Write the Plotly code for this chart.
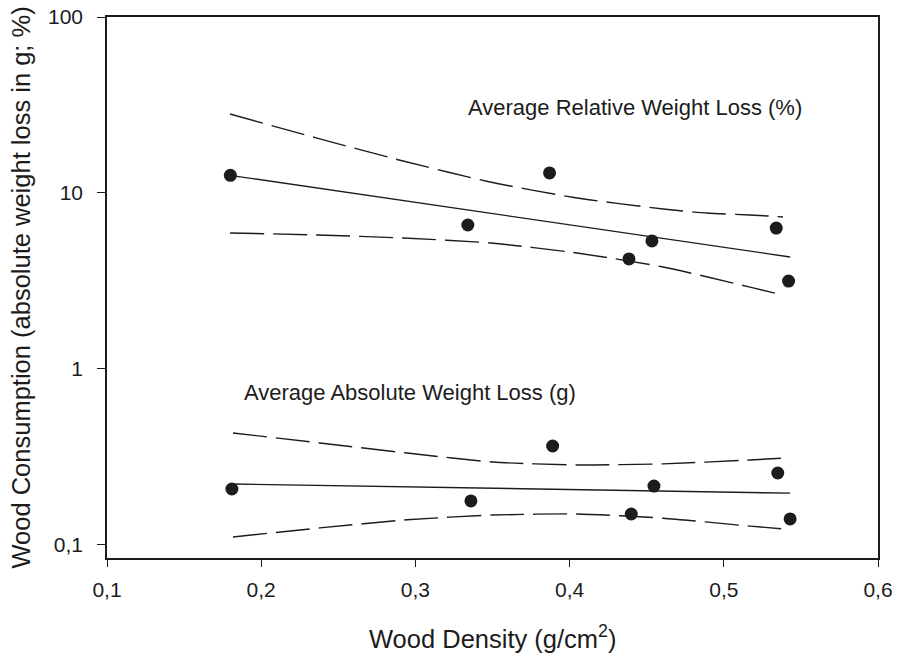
import plotly.graph_objects as go

# Observed data (wood density in g/cm^3)
rel_x = [0.180, 0.334, 0.387, 0.4385, 0.4534, 0.534, 0.542]
rel_y = [12.6, 6.58, 13.0, 4.22, 5.34, 6.32, 3.16]
abs_x = [0.181, 0.336, 0.389, 0.440, 0.4547, 0.535, 0.543]
abs_y = [0.208, 0.178, 0.365, 0.150, 0.216, 0.2565, 0.1406]

# Regression lines
rel_fit_x = [0.1798, 0.543]
rel_fit_y = [12.6, 4.33]
abs_fit_x = [0.1817, 0.543]
abs_fit_y = [0.222, 0.197]

# Confidence bands
rel_up_x = [0.1798, 0.2362, 0.292, 0.3484, 0.4048, 0.4606, 0.489, 0.517, 0.5384]
rel_up_y = [28.1, 20.5, 15.2, 11.55, 9.37, 8.11, 7.69, 7.50, 7.31]
rel_lo_x = [0.1798, 0.2362, 0.292, 0.3484, 0.4048, 0.4606, 0.517, 0.5384]
rel_lo_y = [5.93, 5.77, 5.55, 5.20, 4.56, 3.80, 2.92, 2.63]
abs_up_x = [0.1817, 0.2381, 0.2946, 0.3503, 0.4048, 0.4606, 0.517, 0.5397]
abs_up_y = [0.433, 0.380, 0.333, 0.296, 0.285, 0.289, 0.304, 0.312]
abs_lo_x = [0.1817, 0.2381, 0.2946, 0.3503, 0.4048, 0.4606, 0.517, 0.5397]
abs_lo_y = [0.111, 0.125, 0.139, 0.148, 0.150, 0.142, 0.128, 0.123]

x_ticks = [0.1, 0.2, 0.3, 0.4, 0.5, 0.6]
y_ticks = [0.1, 1, 10, 100]
y_tick_text = ["0,1", "1", "10", "100"]

INK = "#1c1c1c"
FONT = "Liberation Sans, Arial, sans-serif"
DASH = "34px,9px"

fig = go.Figure()

for xs, ys in [(rel_up_x, rel_up_y), (rel_lo_x, rel_lo_y), (abs_up_x, abs_up_y), (abs_lo_x, abs_lo_y)]:
    fig.add_trace(go.Scatter(x=xs, y=ys, mode="lines", line=dict(color=INK, width=1.4, dash=DASH, shape="spline", smoothing=0.6),
                             showlegend=False, hoverinfo="skip"))
for xs, ys in [(rel_fit_x, rel_fit_y), (abs_fit_x, abs_fit_y)]:
    fig.add_trace(go.Scatter(x=xs, y=ys, mode="lines", line=dict(color=INK, width=1.4),
                             showlegend=False, hoverinfo="skip"))
for xs, ys, nm in [(rel_x, rel_y, "Average Relative Weight Loss (%)"), (abs_x, abs_y, "Average Absolute Weight Loss (g)")]:
    fig.add_trace(go.Scatter(x=xs, y=ys, mode="markers", name=nm,
                             marker=dict(color=INK, size=13, symbol="circle"), showlegend=False))

fig.update_layout(
    width=901, height=654,
    margin=dict(l=107, r=23, t=17, b=96, autoexpand=False),
    paper_bgcolor="white", plot_bgcolor="white",
    separators=",.",
    font=dict(family=FONT, color=INK, size=21),
    xaxis=dict(range=[0.1, 0.6], tickvals=x_ticks, tickformat=".1f", automargin=False,
               showgrid=False, zeroline=False, showline=True, linecolor=INK, linewidth=1.5,
               mirror=True, ticks="outside", ticklen=7, tickwidth=1.3, tickcolor=INK,
               tickfont=dict(size=21, color=INK), ticklabelstandoff=5),
    yaxis=dict(type="log", range=[-1.074, 2], tickvals=y_ticks, ticktext=y_tick_text, automargin=False,
               showgrid=False, zeroline=False, showline=True, linecolor=INK, linewidth=1.5,
               mirror=True, ticks="outside", ticklen=8, tickwidth=1.3, tickcolor=INK,
               tickfont=dict(size=21, color=INK), ticklabelstandoff=10),
    annotations=[
        dict(text="Average Relative Weight Loss (%)", x=0.3328, y=1.483, xref="x", yref="y",
             xanchor="left", yanchor="middle", showarrow=False, font=dict(size=22, color=INK)),
        dict(text="Average Absolute Weight Loss (g)", x=0.1875, y=-0.131, xref="x", yref="y",
             xanchor="left", yanchor="middle", showarrow=False, font=dict(size=22, color=INK)),
        dict(text="Wood Consumption (absolute weight loss in g; %)", x=-0.1128, y=0.5, xref="paper", yref="paper",
             xanchor="center", yanchor="middle", textangle=-90, showarrow=False, font=dict(size=25.5, color=INK)),
        dict(text="Wood Density (g/cm<sup>2</sup>)", x=0.5007, y=-0.146, xref="paper", yref="paper",
             xanchor="center", yanchor="middle", showarrow=False, font=dict(size=25.5, color=INK)),
    ],
)

fig.write_html("out.html", config={"displayModeBar": False},
               post_script="document.body.style.margin='0';document.body.style.overflow='hidden';")
